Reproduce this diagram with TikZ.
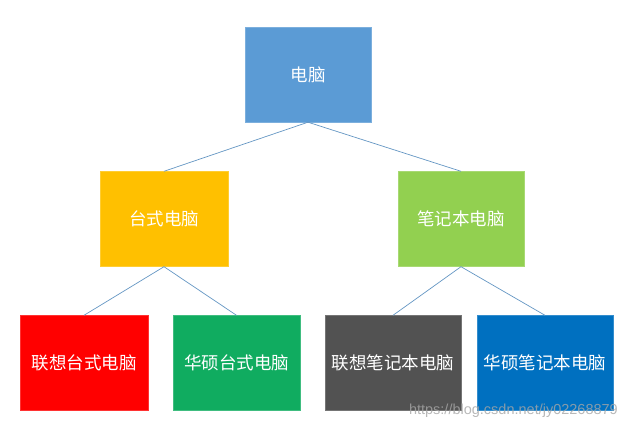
\documentclass[tikz,border=0pt]{standalone}
\usepackage{fontspec}
\newfontfamily\cjk{Noto Sans CJK SC}
\newfontfamily\wmfont{Liberation Sans}
\usetikzlibrary{positioning}
\definecolor{cRoot}{RGB}{91,155,213}
\definecolor{cDesk}{RGB}{255,192,0}
\definecolor{cNote}{RGB}{146,208,80}
\definecolor{cLenD}{RGB}{255,0,0}
\definecolor{cAsuD}{RGB}{16,172,96}
\definecolor{cLenN}{RGB}{82,82,82}
\definecolor{cAsuN}{RGB}{0,112,192}
\definecolor{cLink}{RGB}{100,150,195}

\begin{document}
\begin{tikzpicture}[
  x=1pt, y=-1pt,
  font=\cjk\fontsize{17.5}{21}\selectfont,
  box/.style 2 args={draw=#1!80!white, fill=#1, text=white, inner sep=0pt,
    minimum width=#2, minimum height=95pt, align=center},
  link/.style={draw=cLink, line width=0.7pt},
]
\useasboundingbox (0,0) rectangle (627,430);

% Root
\node[box={cRoot}{126pt}] (pc) at (308,74.5) {电脑};

% Second level
\node[box={cDesk}{128pt}] (desk) at (164,219) {台式电脑};
\node[box={cNote}{126pt}] (note) at (461,219) {笔记本电脑};

% Leaves
\node[box={cLenD}{128pt}] (lend) at (84,363) {联想台式电脑};
\node[box={cAsuD}{127pt}] (asud) at (236.5,363) {华硕台式电脑};
\node[box={cLenN}{136pt}] (lenn) at (393,363) {联想笔记本电脑};
\node[box={cAsuN}{136pt}] (asun) at (545,363) {华硕笔记本电脑};

% Tree lines
\draw[link] (pc.south) -- (desk.north);
\draw[link] (pc.south) -- (note.north);
\draw[link] (desk.south) -- (lend.north);
\draw[link] (desk.south) -- (asud.north);
\draw[link] (note.south) -- (lenn.north);
\draw[link] (note.south) -- (asun.north);

% Watermark
\node[anchor=east, font=\wmfont\fontsize{14.5}{17}\selectfont, text=black!35,
      opacity=0.8, inner sep=0pt] (mark) at (618,411) {https://blog.csdn.net/jy02268879};

\end{tikzpicture}
\end{document}
